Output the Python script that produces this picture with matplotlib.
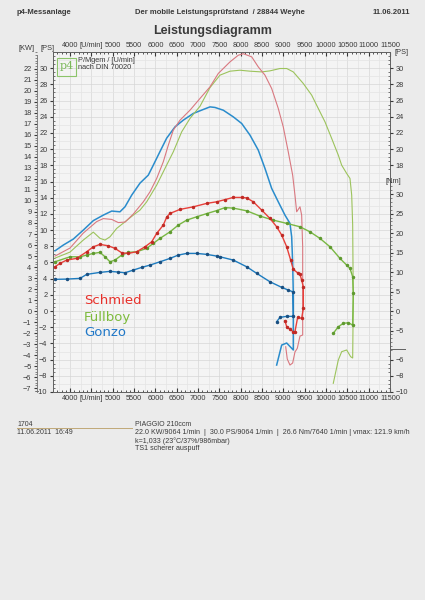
import matplotlib
matplotlib.use('Agg')
import matplotlib.pyplot as plt
from matplotlib.patches import Rectangle
from matplotlib.lines import Line2D
from matplotlib.ticker import MultipleLocator, FixedLocator

plt.rcParams['font.family'] = ['Liberation Sans', 'DejaVu Sans']

# ---------------- data ----------------
x_ticks = [4000, 4500, 5000, 5500, 6000, 6500, 7000, 7500, 8000, 8500,
           9000, 9500, 10000, 10500, 11000, 11500]
x_tick_labels = ['4000', '[U/min]', '5000', '5500', '6000', '6500', '7000', '7500',
                 '8000', '8500', '9000', '9500', '10000', '10500', '11000', '11500']
ps_ticks = list(range(-10, 31, 2))
kw_ticks = list(range(-7, 23))
nm_ticks = [-5, 0, 5, 10, 15, 20, 25, 30]
series_names = ['Schmied', 'Füllboy', 'Gonzo']

# Schmied (red)
schmied_power_rpm = [3647, 3998, 4310, 4624, 4779, 4976, 5131, 5288, 5482, 5717, 5874, 6031,
                     6185, 6303, 6420, 6577, 6811, 7046, 7280, 7475, 7749, 7943, 8061, 8258,
                     8412, 8569, 8726, 8881, 8998, 9115, 9218, 9272, 9312, 9390, 9429, 9453,
                     9453, 9453, 9390, 9327, 9272, 9218, 9155, 9092, 9055]
schmied_power_ps = [6.79, 7.78, 9.63, 11.05, 11.42, 11.32, 10.93, 10.99, 11.98, 13.49, 14.73, 16.38,
                    18.43, 20.49, 22.35, 23.58, 24.81, 26.26, 27.69, 29.35, 30.78, 31.6, 31.79, 31.4,
                    30.16, 29.14, 27.49, 25.02, 22.75, 19.67, 16.79, 14.32, 12.26, 12.88, 11.85, 7.94,
                    1.36, -2.96, -3.09, -4.6, -5.06, -6.42, -6.67, -5.93, -4.41]
schmied_torque_rpm = [3647, 3764, 3921, 4155, 4390, 4545, 4702, 4896, 5053, 5210, 5365, 5562,
                      5757, 5914, 6031, 6185, 6265, 6343, 6577, 6889, 7202, 7437, 7632, 7826,
                      8023, 8140, 8295, 8492, 8686, 8843, 8961, 9078, 9171, 9233, 9350, 9390,
                      9429, 9468, 9468, 9429, 9335, 9272, 9233, 9155, 9078, 9038]
schmied_torque_nm = [11.36, 12.23, 13.08, 13.51, 15.21, 16.49, 17.1, 16.74, 16.08, 14.95, 14.79, 15.21,
                     16.49, 17.77, 19.92, 22.05, 24.1, 25.05, 26.08, 26.74, 27.62, 28.03, 28.59, 29.15,
                     29.15, 29.03, 28.03, 25.9, 23.77, 21.62, 19.49, 16.49, 13.08, 10.69, 9.67, 9.41,
                     7.95, 6.23, 0.69, -1.87, -1.62, -5.31, -5.31, -4.69, -4.03, -2.49]

# Füllboy (green)
fuellboy_power_rpm = [3647, 3998, 4310, 4545, 4702, 4819, 4936, 5093, 5288, 5482, 5639, 5796,
                      6031, 6225, 6420, 6617, 6811, 7046, 7280, 7514, 7749, 7983, 8218, 8492,
                      8686, 8920, 9078, 9233, 9467, 9664, 9819, 9976, 10133, 10288, 10367, 10484,
                      10562, 10602, 10625, 10639, 10625, 10578, 10484, 10367, 10288, 10170]
fuellboy_power_ps = [6.54, 7.28, 8.77, 9.75, 8.98, 8.77, 9.17, 10.21, 11.02, 11.85, 12.47, 13.49,
                     15.56, 17.62, 19.67, 22.14, 23.79, 25.3, 27.6, 29.14, 29.63, 29.75, 29.63, 29.54,
                     29.67, 29.96, 29.96, 29.54, 28.11, 26.67, 25.02, 23.37, 21.32, 19.26, 18.02, 17.0,
                     16.38, 14.32, 10.62, 1.36, -5.8, -5.64, -4.81, -5.02, -6.05, -8.93]
fuellboy_torque_rpm = [3647, 3998, 4233, 4390, 4545, 4702, 4819, 4936, 5053, 5210, 5365, 5562,
                       5796, 5951, 6108, 6343, 6537, 6734, 6968, 7202, 7437, 7632, 7826, 8140,
                       8452, 8764, 9078, 9390, 9624, 9858, 10093, 10327, 10484, 10562, 10625, 10639,
                       10625, 10522, 10405, 10288, 10170]
fuellboy_torque_nm = [12.64, 13.92, 13.92, 14.36, 14.79, 15.05, 13.92, 12.64, 13.08, 14.36, 15.05, 15.21,
                      16.08, 17.36, 18.64, 20.33, 22.05, 23.33, 24.18, 25.0, 25.77, 26.54, 26.41, 25.72,
                      24.36, 23.33, 22.49, 21.62, 20.33, 18.64, 16.49, 13.51, 11.79, 10.95, 8.79, 4.54,
                      -3.59, -3.0, -3.15, -4.03, -5.72]

# Gonzo (blue)
gonzo_power_rpm = [3647, 3841, 4076, 4310, 4545, 4779, 4976, 5170, 5288, 5445, 5639, 5834,
                   5951, 6105, 6265, 6460, 6654, 6889, 7123, 7280, 7397, 7592, 7826, 8023,
                   8218, 8412, 8569, 8726, 8881, 9038, 9155, 9195, 9218, 9233, 9233, 9078,
                   8961, 8843]
gonzo_power_ps = [7.44, 8.15, 8.89, 10.0, 11.17, 11.85, 12.35, 12.26, 12.88, 14.32, 15.8, 16.79,
                  18.02, 19.67, 21.36, 22.75, 23.58, 24.41, 24.9, 25.22, 25.15, 24.81, 23.99, 23.17,
                  21.73, 19.88, 17.62, 15.15, 13.49, 11.85, 10.83, 9.17, 5.93, 2.22, -4.81, -3.95,
                  -4.2, -6.67]
gonzo_torque_rpm = [3647, 3921, 4233, 4390, 4702, 4936, 5131, 5288, 5482, 5679, 5874, 6108,
                    6343, 6537, 6734, 6968, 7202, 7437, 7514, 7826, 8140, 8375, 8686, 8961,
                    9116, 9218, 9233, 9078, 8921, 8843]
gonzo_torque_nm = [8.13, 8.2, 8.38, 9.41, 9.92, 10.18, 10.0, 9.82, 10.51, 11.2, 11.79, 12.64,
                   13.51, 14.36, 14.79, 14.79, 14.54, 14.1, 13.92, 13.08, 11.36, 9.67, 7.51, 6.08,
                   5.38, 4.95, -1.36, -1.36, -1.62, -2.74]

# ---------------- figure ----------------
W, H = 425, 600
fig = plt.figure(figsize=(4.25, 6), dpi=100)
fig.patch.set_facecolor('#ebebeb')


def fx(px):
    return px / W


def fy(py):
    return 1 - py / H


PS_MIN, PS_MAX = -10, 32
KW_PER_PS = 0.7355
NM_PER_PS = 8.1 / 3.9
TXT = '#3a3a3a'
FS = 5.3

ax = fig.add_axes([fx(53), fy(392), (390 - 53) / W, (392 - 52) / H])
ax.set_facecolor('#f4f4f4')
ax.set_xlim(3600, 11500)
ax.set_ylim(PS_MIN, PS_MAX)
for s in ax.spines.values():
    s.set_color('#606060')
    s.set_linewidth(0.7)

# grid
ax.xaxis.set_minor_locator(MultipleLocator(100))
ax.yaxis.set_minor_locator(MultipleLocator(0.5))
for xv in range(3750, 11500, 250):
    ax.axvline(xv, color='#d6d6d6' if xv % 500 == 0 else '#e4e4e4', lw=0.5, zorder=0)
for yv in range(-10, 32, 1):
    ax.axhline(yv, color='#d6d6d6' if yv % 2 == 0 else '#e4e4e4', lw=0.5, zorder=0)

ax.set_xticks(x_ticks)
ax.set_xticklabels(x_tick_labels)
ax.tick_params(axis='x', which='both', top=True, bottom=True, labeltop=True, labelbottom=True,
               direction='in', labelsize=FS, pad=2.5, colors=TXT)
ax.tick_params(axis='x', which='major', length=3)
ax.tick_params(axis='x', which='minor', length=1.5)
ax.set_yticks(ps_ticks)
ax.tick_params(axis='y', which='major', left=True, right=False, labelleft=True, labelright=False,
               direction='out', length=2.5, labelsize=FS, pad=1.5, colors=TXT)
ax.tick_params(axis='y', which='minor', left=True, right=False, direction='in', length=1.5,
               colors='#606060')

# right PS labels (hidden behind the Nm box in the middle)
ax_pr = ax.twinx()
ax_pr.set_ylim(PS_MIN, PS_MAX)
for s in ax_pr.spines.values():
    s.set_visible(False)
ax_pr.set_yticks([v for v in ps_ticks if v >= 18 or v <= -6])
ax_pr.yaxis.set_minor_locator(FixedLocator([v / 2 for v in range(-20, 64) if v / 2 >= 17.5 or v / 2 <= -5.5]))
ax_pr.tick_params(axis='y', which='major', direction='out', length=2.5, labelsize=FS, pad=1.5,
                  colors=TXT)
ax_pr.tick_params(axis='y', which='minor', direction='in', length=1.5, colors='#606060')

# KW axis on the left
ax_kw = ax.twinx()
ax_kw.set_ylim(PS_MIN * KW_PER_PS, PS_MAX * KW_PER_PS)
for k, s in ax_kw.spines.items():
    s.set_visible(k == 'left')
ax_kw.spines['left'].set_position(('axes', -(53 - 37) / 337))
ax_kw.spines['left'].set_bounds(-7.4, 23.3)
ax_kw.spines['left'].set_color('#707070')
ax_kw.spines['left'].set_linewidth(0.6)
ax_kw.yaxis.set_ticks_position('left')
ax_kw.yaxis.set_label_position('left')
ax_kw.set_yticks(kw_ticks)
ax_kw.yaxis.set_minor_locator(MultipleLocator(0.25))
ax_kw.tick_params(axis='y', which='major', direction='out', length=2.5, labelsize=FS, pad=1.5,
                  colors=TXT)
ax_kw.tick_params(axis='y', which='minor', direction='out', length=1.2, colors='#707070')

# Nm axis on the right (lower box)
ax_nm = ax.twinx()
ax_nm.set_ylim(PS_MIN * NM_PER_PS, PS_MAX * NM_PER_PS)
for k, s in ax_nm.spines.items():
    s.set_visible(k == 'right')
ax_nm.spines['right'].set_bounds(-10, 34)
ax_nm.spines['right'].set_color('#606060')
ax_nm.spines['right'].set_linewidth(0.7)
ax_nm.set_yticks(nm_ticks)
ax_nm.yaxis.set_minor_locator(FixedLocator(list(range(-10, 34))))
ax_nm.tick_params(axis='y', which='major', direction='out', length=2.5, labelsize=FS, pad=1.5,
                  colors=TXT)
ax_nm.tick_params(axis='y', which='minor', direction='out', length=1.2, colors='#707070')
fig.add_artist(Line2D([fx(390), fx(405)], [fy(349), fy(349)], color='#606060', lw=0.7))
fig.text(fx(386), fy(181), '[Nm]', fontsize=FS, color=TXT, va='center', ha='left')

# ---------------- curves ----------------
red_t, red_p = '#e8403a', '#d97880'
grn_t, grn_p = '#79b843', '#9cc35c'
blu_t, blu_p = '#1d7cc0', '#2a8ccc'

ax_nm.plot(gonzo_torque_rpm, gonzo_torque_nm, color=blu_t, lw=1.0, marker='o', ms=1.5,
           mfc='#1a4f80', mec='#1a4f80', zorder=3)
ax_nm.plot(fuellboy_torque_rpm, fuellboy_torque_nm, color=grn_t, lw=1.0, marker='o', ms=1.5,
           mfc='#5f9a30', mec='#5f9a30', zorder=3)
ax_nm.plot(schmied_torque_rpm, schmied_torque_nm, color=red_t, lw=1.0, marker='o', ms=1.5,
           mfc='#c02a25', mec='#c02a25', zorder=3)
ax.plot(gonzo_power_rpm, gonzo_power_ps, color=blu_p, lw=1.1, zorder=3)
ax.plot(fuellboy_power_rpm, fuellboy_power_ps, color=grn_p, lw=0.8, zorder=3)
ax.plot(schmied_power_rpm, schmied_power_ps, color=red_p, lw=0.8, zorder=3)

# legend text
for name, col, py in zip(series_names, ['#e8302a', '#7dbb3c', '#2078c8'], [301, 317, 333]):
    ax.text((84 - 53) / 337, (392 - py) / 340, name, transform=ax.transAxes, color=col,
            fontsize=9.5, va='center', ha='left', family=['DejaVu Sans'])

# p4 logo and caption
fig.add_artist(Rectangle((fx(57), fy(76)), fx(19), 18 / H, fill=False, ec='#8cc46a', lw=0.8))
fig.text(fx(66.5), fy(66), 'p4', color='#7ab85a', fontsize=8, ha='center', va='center',
         family=['DejaVu Serif'])
fig.text(fx(78), fy(60), 'P/Mgem / [U/min]', fontsize=FS, color=TXT, va='center')
fig.text(fx(78), fy(67.5), 'nach DIN 70020', fontsize=FS, color=TXT, va='center')

# axis unit labels
fig.text(fx(27), fy(48.5), '[KW]', fontsize=FS, color=TXT, ha='center', va='center')
fig.text(fx(48), fy(48.5), '[PS]', fontsize=FS, color=TXT, ha='center', va='center')
fig.text(fx(402), fy(52), '[PS]', fontsize=FS, color=TXT, ha='center', va='center')

# header
fig.text(fx(17), fy(13), 'p4-Messanlage', fontsize=5.5, weight='bold', color=TXT, va='center')
fig.text(fx(220), fy(13), 'Der mobile Leistungsprüfstand  / 28844 Weyhe', fontsize=5.5,
         weight='bold', color=TXT, va='center', ha='center')
fig.text(fx(410), fy(13), '11.06.2011', fontsize=5.5, weight='bold', color=TXT,
         va='center', ha='right')
fig.text(fx(213), fy(31), 'Leistungsdiagramm', fontsize=9, weight='bold', color=TXT,
         va='center', ha='center')

# footer
fig.text(fx(17), fy(424), '1704', fontsize=5, color=TXT, va='center')
fig.add_artist(Line2D([fx(17), fx(132)], [fy(428), fy(428)], color='#c0a878', lw=0.7))
fig.text(fx(17), fy(432), '11.06.2011  16:49', fontsize=5, color=TXT, va='center')
fig.text(fx(135), fy(424), 'PIAGGIO 210ccm', fontsize=5, color=TXT, va='center')
fig.text(fx(135), fy(432), '22.0 KW/9064 1/min  |  30.0 PS/9064 1/min  |  26.6 Nm/7640 1/min | vmax: 121.9 km/h',
         fontsize=5.1, color=TXT, va='center')
fig.text(fx(135), fy(441), 'k=1,033 (23°C/37%/986mbar)', fontsize=5.1, color=TXT, va='center')
fig.text(fx(135), fy(449), 'TS1 scherer auspuff', fontsize=5.1, color=TXT, va='center')

fig.savefig('out.png', dpi=100, facecolor=fig.get_facecolor())
